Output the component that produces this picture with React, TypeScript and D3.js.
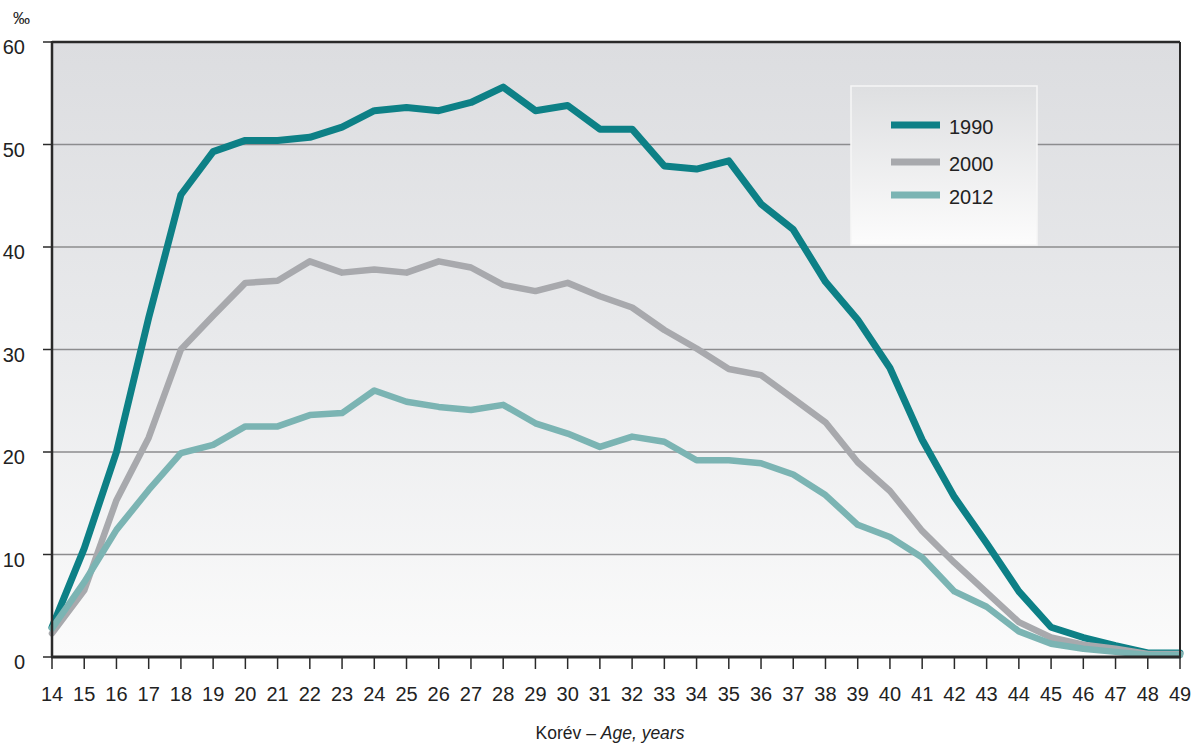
import React from "react";
import * as d3 from "d3";

const ages = d3.range(14, 50);
const yTicks = [0, 10, 20, 30, 40, 50, 60];
const seriesNames = ["1990", "2000", "2012"];
const v1990 = [2.9, 10.6, 20.0, 33.1, 45.1, 49.3, 50.4, 50.4, 50.7, 51.7, 53.3, 53.6, 53.3, 54.1, 55.6, 53.3, 53.8, 51.5, 51.5, 47.9, 47.6, 48.4, 44.2, 41.7, 36.6, 32.9, 28.2, 21.2, 15.6, 11.1, 6.4, 2.9, 1.9, 1.1, 0.4, 0.4];
const v2000 = [2.3, 6.5, 15.3, 21.4, 30.0, 33.3, 36.5, 36.7, 38.6, 37.5, 37.8, 37.5, 38.6, 38.0, 36.3, 35.7, 36.5, 35.2, 34.1, 31.9, 30.1, 28.1, 27.5, 25.2, 22.9, 19.0, 16.2, 12.3, 9.2, 6.3, 3.4, 1.9, 1.2, 0.8, 0.3, 0.3];
const v2012 = [2.8, 7.3, 12.4, 16.3, 19.9, 20.7, 22.5, 22.5, 23.6, 23.8, 26.0, 24.9, 24.4, 24.1, 24.6, 22.8, 21.8, 20.5, 21.5, 21.0, 19.2, 19.2, 18.9, 17.8, 15.8, 12.9, 11.7, 9.7, 6.4, 4.9, 2.5, 1.3, 0.8, 0.5, 0.2, 0.2];
const colors = ["#0d8086", "#a8a9ad", "#7bb4b3"];
const widths = [7, 6.5, 6.5];

export default function App() {
  const W = 1198, H = 747;
  const L = 52, R = 1180, T = 42, B = 657;
  const x = d3.scaleLinear().domain([14, 49]).range([L, R]);
  const y = d3.scaleLinear().domain([0, 60]).range([B, T]);
  const line = d3.line<number>().x((_, i) => x(ages[i])).y((d) => y(d));
  const data = [v1990, v2000, v2012];
  const font = "'Liberation Sans Narrow', 'Liberation Sans', Arial, sans-serif";

  return (
    <svg width={W} height={H} style={{ position: "absolute", left: 0, top: 0, background: "#fff" }}
      fontFamily={font}>
      <defs>
        <linearGradient id="bg" x1="0" y1="0" x2="0" y2="1">
          <stop offset="0" stopColor="#dcdde0" />
          <stop offset="0.5" stopColor="#e9eaec" />
          <stop offset="1" stopColor="#fbfbfb" />
        </linearGradient>
        <linearGradient id="lg" x1="0" y1="0" x2="0" y2="1">
          <stop offset="0" stopColor="#dedfe1" />
          <stop offset="1" stopColor="#fcfcfc" />
        </linearGradient>
      </defs>
      <rect x={L} y={T} width={R - L} height={B - T} fill="url(#bg)" />
      {yTicks.filter((t) => t > 0 && t < 60).map((t) => (
        <line key={t} x1={L} x2={R} y1={y(t)} y2={y(t)} stroke="#8c8c8e" strokeWidth={1.5} />
      ))}
      {/* legend */}
      <rect x={851} y={86} width={186} height={159} fill="url(#lg)" stroke="#f6f6f6" strokeWidth={1.5} />
      {seriesNames.map((n, i) => {
        const ly = [125, 162, 195][i];
        return (
          <g key={n}>
            <line x1={891} x2={940} y1={ly} y2={ly} stroke={colors[i]} strokeWidth={7} />
            <text x={949} y={ly + 9} fontSize={20} fill="#222">{n}</text>
          </g>
        );
      })}
      {data.map((d, i) => (
        <path key={i} d={line(d) || ""} fill="none" stroke={colors[i]} strokeWidth={widths[i]}
          strokeLinejoin="round" strokeLinecap="round" />
      ))}
      {/* frame */}
      <line x1={L} x2={R} y1={T} y2={T} stroke="#2a2a2a" strokeWidth={2.5} />
      <line x1={R} x2={R} y1={T} y2={B} stroke="#2a2a2a" strokeWidth={2} />
      <line x1={L} x2={L} y1={T - 1} y2={B} stroke="#2a2a2a" strokeWidth={2.5} />
      <line x1={L - 1} x2={R + 1} y1={B} y2={B} stroke="#2a2a2a" strokeWidth={3} />
      {yTicks.map((t) => (
        <g key={t}>
          <line x1={L - 9} x2={L} y1={y(t)} y2={y(t)} stroke="#2a2a2a" strokeWidth={1.5} />
          <text x={25} y={y(t) + 12} fontSize={20} textAnchor="end" fill="#222">{t}</text>
        </g>
      ))}
      {ages.map((a) => (
        <g key={a}>
          <line x1={x(a)} x2={x(a)} y1={B} y2={B + 12} stroke="#2a2a2a" strokeWidth={1.5} />
          <text x={x(a)} y={701} fontSize={20} textAnchor="middle" fill="#222">{a}</text>
        </g>
      ))}
      <text x={13} y={24} fontSize={17} fill="#222">‰</text>
      <text x={610} y={739} fontSize={17.5} textAnchor="middle" fill="#222">
        Korév – <tspan fontStyle="italic">Age, years</tspan>
      </text>
    </svg>
  );
}
